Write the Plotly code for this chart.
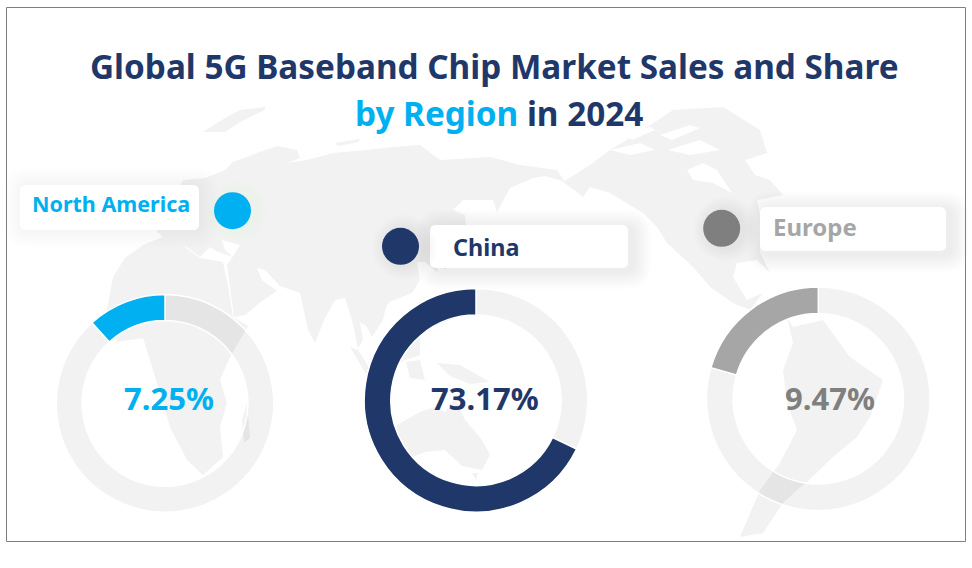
import plotly.graph_objects as go

# ---- chart data ----
regions = ["North America", "China", "Europe"]
share_labels = ["7.25%", "73.17%", "9.47%"]
arc_shares = [11.7, 67.8, 20.5]
arc_remainders = [88.3, 32.2, 79.5]

NAVY = "#1F3869"
BLUE = "#00B0F0"
GREY = "#7F7F7F"
LIGHT = "#A6A6A6"
MAP = "#F2F2F2"
RING = "rgba(0,0,0,0.05)"
FONT = "Noto Sans"
W, H = 972, 568

# ---- faint backdrop map outlines (decoration, pixel space) ----
EURASIA = [(157,232),(170,205),(183,180),(205,178),(225,170),(233,162),(257,153),(277,146),(297,150),(300,158),
 (287,163),(307,160),(333,153),(367,150),(393,147),(420,145),(440,160),(490,157),(520,165),(557,170),(565,182),(545,176),
 (533,178),(510,188),(497,212),(493,200),(463,200),(453,210),(465,215),(467,235),(440,255),(437,272),(425,262),(417,262),
 (420,280),(412,293),(387,303),(383,320),(372,337),(366,326),(360,322),(363,340),(358,348),(352,320),(345,298),(335,300),(325,318),
 (315,343),(308,330),(300,293),(280,286),(265,270),(257,268),(262,280),(277,291),(262,301),(245,315),(234,317),(227,265),
 (232,258),(240,245),(222,240),(225,250),(233,257),(218,252),(210,247),(200,257),(187,247),(172,245)]
AFRICA = [(113,277),(125,258),(143,245),(165,236),(185,247),(200,258),(223,262),(228,285),(233,317),(248,326),(230,357),
 (220,380),(227,403),(220,427),(223,457),(203,475),(187,460),(170,427),(153,370),(143,338),(117,342),(107,310)]
MADAGASCAR = [(247,403),(250,438),(244,443),(242,420)]
GREENLAND_W = [(203,132),(225,118),(240,110),(265,107),(265,110),(240,122),(225,132)]
NOVAYA = [(335,143),(360,139),(358,142),(338,146)]
BRITAIN = [(170,195),(178,190),(180,205),(172,210)]
JAPAN = [(440,262),(452,250),(458,232),(462,238),(456,256),(445,270)]
PHILIPPINES = [(380,290),(386,284),(392,300),(386,306)]
SUMATRA = [(350,347),(358,350),(372,372),(366,374)]
BORNEO = [(395,340),(420,338),(420,355),(400,362)]
SULAWESI = [(406,362),(420,360),(425,380),(410,378)]
PAPUA = [(437,363),(460,365),(490,382),(470,384),(450,376)]
AUSTRALIA = [(397,425),(420,412),(435,407),(445,412),(455,398),(465,420),(482,440),(490,455),(482,470),(462,466),(445,450),(425,452),(400,462),(395,445)]
TASMANIA = [(472,473),(478,473),(476,480)]
NORTH_AMERICA = [(563,182),(590,165),(610,150),(640,132),(673,110),(723,107),(760,130),(767,153),(745,160),(755,175),
 (770,180),(783,195),(757,200),(762,225),(760,252),(770,273),(757,260),(737,263),(733,277),(747,300),(763,293),(750,310),
 (733,303),(710,287),(693,267),(667,243),(657,227),(643,213),(610,193),(590,187),(583,197),(570,187)]
SOUTH_AMERICA = [(787,317),(793,327),(823,320),(850,357),(883,380),(870,417),(857,437),(833,457),(807,482),(797,490),
 (783,503),(763,533),(740,537),(760,490),(780,463),(797,430),(787,403),(783,370),(793,343)]
MAP_POLYS = [EURASIA, AFRICA, MADAGASCAR, GREENLAND_W, NOVAYA, BRITAIN, JAPAN, PHILIPPINES, SUMATRA, BORNEO, SULAWESI,
             PAPUA, AUSTRALIA, TASMANIA, NORTH_AMERICA, SOUTH_AMERICA]
# water cut out of the land
WATER = [[(687,170),(703,163),(717,170),(732,193),(713,183),(693,180)],
         [(610,150),(640,143),(655,150),(630,155)], [(660,135),(690,125),(700,128),(672,140)],
         [(668,150),(700,140),(720,150),(690,155)], [(625,135),(650,127),(655,130),(632,140)]]

def px(x): return x / W
def py(y): return 1 - y / H

def poly_path(pts):
    return "M " + " L ".join(f"{px(x):.5f},{py(y):.5f}" for x, y in pts) + " Z"

def round_path(x0, y0, x1, y1, r):
    p = lambda x, y: f"{px(x):.5f},{py(y):.5f}"
    return (f"M {p(x0+r,y0)} L {p(x1-r,y0)} Q {p(x1,y0)} {p(x1,y0+r)} L {p(x1,y1-r)} Q {p(x1,y1)} {p(x1-r,y1)} "
            f"L {p(x0+r,y1)} Q {p(x0,y1)} {p(x0,y1-r)} L {p(x0,y0+r)} Q {p(x0,y0)} {p(x0+r,y0)} Z")

def path_shape(path, fill):
    return dict(type="path", xref="paper", yref="paper", path=path, fillcolor=fill, line_width=0, layer="below")

def circle_shape(cx, cy, r, fill):
    return dict(type="circle", xref="paper", yref="paper", x0=px(cx-r), x1=px(cx+r), y0=py(cy+r), y1=py(cy-r),
                fillcolor=fill, line_width=0, layer="above")

shapes = [path_shape(poly_path(p), MAP) for p in MAP_POLYS]
shapes += [path_shape(poly_path(p), "#FFFFFF") for p in WATER]

# label pills with soft shadows; (x0, y0, x1, y1, shadow dx, shadow dy, shadow alpha)
pills = [(20, 185, 199, 230, 2, 0, 0.004), (430, 225, 628, 268, 5, 3, 0.006), (760, 207, 946, 251, 5, 3, 0.006)]
for x0, y0, x1, y1, dx, dy, a in pills:
    for k in range(9, 0, -1):
        g = k * 2
        shapes.append(path_shape(round_path(x0+dx-g, y0+dy-g, x1+dx+g, y1+dy+g, 6+g), f"rgba(0,0,0,{a})"))
    shapes.append(path_shape(round_path(x0, y0, x1, y1, 6), "#FFFFFF"))

# marker dots
dots = [(232.5, 210.7, BLUE), (400.5, 246.3, NAVY), (721.7, 228.3, GREY)]
for i, (cx, cy, c) in enumerate(dots):
    for k in range(7, 0, -1):
        s = circle_shape(cx + 4, cy + 1, 18.5 + k * 2, "rgba(0,0,0,0.008)" if i != 0 else "rgba(120,160,120,0.005)")
        s["layer"] = "below"
        shapes.append(s)
    shapes.append(circle_shape(cx, cy, 18.5, c))

# outer frame
shapes.append(dict(type="rect", xref="paper", yref="paper", x0=px(6.5), x1=px(965.5), y0=py(541.5), y1=py(7.5),
                   line=dict(color="#7F7F7F", width=1), fillcolor="rgba(0,0,0,0)", layer="above"))

fig = go.Figure()
centers = [(165, 403.4, 108.8), (476, 400.3, 111.8), (818.3, 398.8, 111.8)]
colors = [BLUE, NAVY, LIGHT]
for i, (cx, cy, r) in enumerate(centers):
    fig.add_trace(go.Pie(
        labels=["Other", regions[i]],
        values=[arc_remainders[i], arc_shares[i]],
        hole=0.762,
        sort=False, direction="clockwise", rotation=0,
        textinfo="none", hoverinfo="label+percent", showlegend=False,
        marker=dict(colors=[RING, colors[i]], line=dict(color="#FFFFFF", width=1.5)),
        domain=dict(x=[px(cx-r), px(cx+r)], y=[py(cy+r), py(cy-r)]),
    ))

def text(x, y, s, size, color, anchor="center"):
    return dict(x=px(x), y=py(y), xref="paper", yref="paper", text=s, showarrow=False, xanchor=anchor, yanchor="middle",
                font=dict(family=FONT, size=size, color=color), align="center")

b = lambda s: f"<b>{s}</b>"
annotations = [
    text(494.5, 66, b("Global 5G Baseband Chip Market Sales and Share"), 33.3, NAVY),
    text(499.5, 113, f"<b><span style='color:{BLUE}'>by Region</span> in 2024</b>", 33.3, NAVY),
    text(29.5, 204, b(regions[0]), 21.5, BLUE, "left"),
    text(450.5, 247, b(regions[1]), 23.4, NAVY, "left"),
    text(771, 226, b(regions[2]), 24, LIGHT, "left"),
    text(169, 398, b(share_labels[0]), 31, BLUE),
    text(485, 398, b(share_labels[1]), 31, NAVY),
    text(830, 398, b(share_labels[2]), 31, GREY),
]

fig.update_layout(width=W, height=H, margin=dict(l=0, r=0, t=0, b=0), paper_bgcolor="#FFFFFF", plot_bgcolor="#FFFFFF",
                  shapes=shapes, annotations=annotations)
fig.write_html("out.html", post_script="document.body.style.margin='0';", config={"displayModeBar": False})
